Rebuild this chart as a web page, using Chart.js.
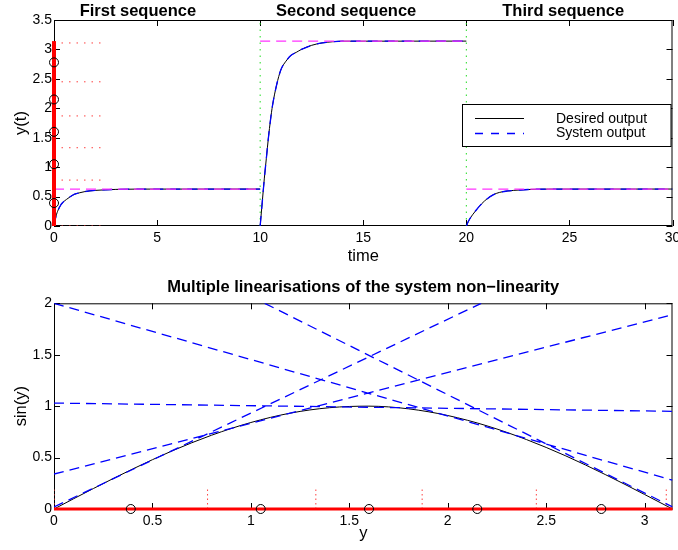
<!DOCTYPE html>
<html>
<head>
<meta charset="utf-8">
<script src="https://cdn.jsdelivr.net/npm/chart.js@4.4.1/dist/chart.umd.min.js"></script>
<style>
  body { margin: 0; background: #fff; }
  .wrap { position: absolute; left: 0; width: 678px; }
  #top { top: 0; height: 270px; }
  #bottom { top: 270px; height: 280px; }
</style>
</head>
<body>
<div class="wrap" id="top"><canvas id="response-chart"></canvas></div>
<div class="wrap" id="bottom"><canvas id="linear-chart"></canvas></div>
<script>
const FONT = '"Liberation Sans", Arial, sans-serif';

// top plot: three step sequences
const seqStart = [0, 10, 20];
const seqEnd = [10, 20, 30];
const seqTarget = [0.628, 3.1416, 0.628];
const seqTitles = ['First sequence', 'Second sequence', 'Third sequence'];
const seqTitleAt = [4.07, 14.17, 24.7];

// time since start of sequence, and output
const seq1T = [0, 0.1, 0.2, 0.3, 0.4, 0.6, 0.8, 1.0, 1.25, 1.5, 2.0, 2.5, 3.0, 4.0, 10];
const seq1Y = [0, 0.17, 0.27, 0.34, 0.39, 0.45, 0.5, 0.54, 0.565, 0.585, 0.605, 0.615, 0.622, 0.627, 0.628];
const seq2T = [0, 0.1, 0.2, 0.3, 0.4, 0.5, 0.6, 0.8, 1.0, 1.25, 1.5, 1.75, 2.0, 2.5, 3.0, 3.5, 4.0, 10];
const seq2Y = [0, 0.4, 0.8, 1.15, 1.5, 1.8, 2.05, 2.4, 2.65, 2.8, 2.9, 2.95, 3.0, 3.07, 3.11, 3.13, 3.14, 3.1416];
const seq3T = [0, 0.1, 0.2, 0.3, 0.5, 0.75, 1.0, 1.3, 1.6, 2.0, 2.6, 3.0, 4.0, 10];
const seq3Y = [0, 0.08, 0.14, 0.19, 0.28, 0.38, 0.46, 0.53, 0.57, 0.595, 0.612, 0.62, 0.627, 0.628];

// linearisation regions (shared by both plots)
const regionEdges = [0, 0.78, 1.33, 1.87, 2.45, 3.11];
const regionCentres = [0.39, 1.05, 1.6, 2.15, 2.78];
const edgeLineEnd = 2.45;     // time where the dotted level lines stop
const edgeMarkHeight = 0.2;   // height of dotted marks in the lower plot
const yMaxValue = 3.1416;

// bottom plot: sin(y) and tangent lines
const sinX = [0, 0.2, 0.4, 0.6, 0.8, 1.0, 1.2, 1.4, 1.6, 1.8, 2.0, 2.2, 2.4, 2.6, 2.8, 3.0, 3.1416];
const sinY = [0, 0.199, 0.389, 0.565, 0.717, 0.841, 0.932, 0.985, 1.0, 0.974, 0.909, 0.808, 0.675, 0.516, 0.335, 0.141, 0];
const tangentX = [[0, 2.17], [0, 3.1416], [0, 3.1416], [0, 3.1416], [1.07, 3.1416]];
const tangentY = [[0.02, 2.0], [0.34, 1.89], [1.03, 0.95], [2.0, 0.28], [2.0, 0.02]];

const topXTicks = [0, 5, 10, 15, 20, 25, 30];
const topYTicks = [0, 0.5, 1, 1.5, 2, 2.5, 3, 3.5];
const botXTicks = [0, 0.5, 1, 1.5, 2, 2.5, 3];
const botYTicks = [0, 0.5, 1, 1.5, 2];

const legendLabels = ['Desired output', 'System output'];

// join several polylines into one dataset, broken by null points
function joined(lines) {
  const pts = [];
  lines.forEach((line, i) => {
    if (i > 0) pts.push({ x: line[0].x, y: null });
    line.forEach(p => pts.push(p));
  });
  return pts;
}

const seqT = [seq1T, seq2T, seq3T];
const seqY = [seq1Y, seq2Y, seq3Y];
const responseData = joined(seqT.map((ts, i) => ts.map((t, j) => ({ x: seqStart[i] + t, y: seqY[i][j] }))));
const targetData = joined(seqStart.map((s, i) => [{ x: s, y: seqTarget[i] }, { x: seqEnd[i], y: seqTarget[i] }]));
const switchData = joined(seqStart.slice(1).map(s => [{ x: s, y: 0 }, { x: s, y: 3.5 }]));
const levelData = joined(regionEdges.map(v => [{ x: 0, y: v }, { x: edgeLineEnd, y: v }]));

function fixedScale(size, horizontal) {
  return function (scale) {
    if (horizontal) {
      scale.height = size;
      scale.paddingLeft = 0;
      scale.paddingRight = 0;
    } else {
      scale.width = size;
      scale.paddingTop = 0;
      scale.paddingBottom = 0;
    }
  };
}

function useTicks(values) {
  return function (scale) {
    scale.ticks = values.map(v => ({ value: v }));
  };
}

const frame = {
  id: 'frame',
  beforeDatasetsDraw(chart) {
    const { ctx, chartArea: a, scales: { x, y } } = chart;
    ctx.save();
    ctx.strokeStyle = '#000';
    ctx.lineWidth = 1;
    ctx.strokeRect(a.left + 0.5, a.top + 0.5, a.width - 1, a.height - 1);
    ctx.beginPath();
    x.ticks.forEach(t => {
      const px = Math.round(x.getPixelForValue(t.value)) + 0.5;
      ctx.moveTo(px, a.bottom); ctx.lineTo(px, a.bottom - 6);
      ctx.moveTo(px, a.top); ctx.lineTo(px, a.top + 6);
    });
    y.ticks.forEach(t => {
      const py = Math.round(y.getPixelForValue(t.value)) + 0.5;
      ctx.moveTo(a.left, py); ctx.lineTo(a.left + 6, py);
      ctx.moveTo(a.right, py); ctx.lineTo(a.right - 6, py);
    });
    ctx.stroke();
    ctx.restore();
  }
};

const seqLabels = {
  id: 'seqLabels',
  afterDraw(chart) {
    const { ctx, scales: { x } } = chart;
    ctx.save();
    ctx.font = 'bold 16.5px ' + FONT;
    ctx.fillStyle = '#000';
    ctx.textAlign = 'center';
    ctx.textBaseline = 'alphabetic';
    seqTitles.forEach((t, i) => ctx.fillText(t, x.getPixelForValue(seqTitleAt[i]), 15.5));
    ctx.restore();
  }
};

const outputLegend = {
  id: 'outputLegend',
  afterDatasetsDraw(chart) {
    const { ctx, chartArea: a } = chart;
    const left = 462.5, top = 104.5, right = a.right - 1.5, bottom = 146.5;
    ctx.save();
    ctx.fillStyle = '#fff';
    ctx.fillRect(left, top, right - left, bottom - top);
    ctx.strokeStyle = '#000';
    ctx.lineWidth = 1;
    ctx.strokeRect(left, top, right - left, bottom - top);
    ctx.beginPath();
    ctx.strokeStyle = '#000';
    ctx.moveTo(475, 118.5); ctx.lineTo(524, 118.5);
    ctx.stroke();
    ctx.beginPath();
    ctx.strokeStyle = '#0000ff';
    ctx.lineWidth = 1.3;
    ctx.setLineDash([8, 8]);
    ctx.moveTo(475, 133.5); ctx.lineTo(524, 133.5);
    ctx.stroke();
    ctx.setLineDash([]);
    ctx.font = '14px ' + FONT;
    ctx.fillStyle = '#000';
    ctx.textBaseline = 'middle';
    ctx.fillText(legendLabels[0], 556, 119);
    ctx.fillText(legendLabels[1], 556, 133);
    ctx.restore();
  }
};

const tickFont = { family: FONT, size: 14 };
const labelFont = { family: FONT, size: 16.5 };
const noGrid = { display: false, drawTicks: false };

new Chart(document.getElementById('response-chart'), {
  type: 'scatter',
  data: {
    datasets: [
      {
        label: 'regions',
        data: regionCentres.map(v => ({ x: 0, y: v })),
        showLine: false, pointRadius: 4.5, pointBorderWidth: 1,
        pointBorderColor: '#000', pointBackgroundColor: 'rgba(0,0,0,0)',
        clip: false, order: 1
      },
      {
        label: 'range',
        data: [{ x: 0, y: 0 }, { x: 0, y: yMaxValue }],
        showLine: true, borderColor: '#ff0000', borderWidth: 4,
        pointRadius: 0, clip: false, order: 2
      },
      {
        label: 'target',
        data: targetData,
        showLine: true, borderColor: '#ff33ff', borderWidth: 1.2, borderDash: [10, 6],
        pointRadius: 0, spanGaps: false, order: 3
      },
      {
        label: 'System output',
        data: responseData,
        showLine: true, borderColor: '#0000ff', borderWidth: 1.3, borderDash: [10, 7],
        pointRadius: 0, spanGaps: false, cubicInterpolationMode: 'monotone', order: 4
      },
      {
        label: 'Desired output',
        data: responseData,
        showLine: true, borderColor: '#000', borderWidth: 1,
        pointRadius: 0, spanGaps: false, cubicInterpolationMode: 'monotone', order: 5
      },
      {
        label: 'levels',
        data: levelData,
        showLine: true, borderColor: '#ff4040', borderWidth: 1, borderDash: [1.5, 6],
        pointRadius: 0, spanGaps: false, order: 6
      },
      {
        label: 'switch',
        data: switchData,
        showLine: true, borderColor: '#22dd22', borderWidth: 1, borderDash: [1.5, 5],
        pointRadius: 0, spanGaps: false, order: 7
      }
    ]
  },
  options: {
    responsive: true,
    maintainAspectRatio: false,
    animation: false,
    layout: { padding: { top: 20, right: 3, left: 0, bottom: 0 } },
    plugins: { legend: { display: false }, tooltip: { enabled: false } },
    scales: {
      x: {
        type: 'linear', min: 0, max: 30,
        afterBuildTicks: useTicks(topXTicks),
        afterFit: fixedScale(44, true),
        grid: noGrid,
        border: { display: false },
        ticks: { font: tickFont, color: '#000', padding: 4, maxRotation: 0, autoSkip: false, callback: v => String(v) },
        title: { display: true, text: 'time', font: labelFont, color: '#000', padding: { top: 0, bottom: 4 } }
      },
      y: {
        type: 'linear', min: 0, max: 3.5,
        afterBuildTicks: useTicks(topYTicks),
        afterFit: fixedScale(54, false),
        grid: noGrid,
        border: { display: false },
        ticks: { font: tickFont, color: '#000', padding: 2, autoSkip: false, callback: v => String(v) },
        title: { display: true, text: 'y(t)', font: labelFont, color: '#000', padding: { top: 11.6, bottom: 0 } }
      }
    }
  },
  plugins: [frame, seqLabels, outputLegend]
});

const tangentData = joined(tangentX.map((xs, i) => xs.map((x, j) => ({ x: x, y: tangentY[i][j] }))));
const markData = joined(regionEdges.map(v => [{ x: v, y: 0 }, { x: v, y: edgeMarkHeight }]));

new Chart(document.getElementById('linear-chart'), {
  type: 'scatter',
  data: {
    datasets: [
      {
        label: 'regions',
        data: regionCentres.map(v => ({ x: v, y: 0 })),
        showLine: false, pointRadius: 4.5, pointBorderWidth: 1,
        pointBorderColor: '#000', pointBackgroundColor: 'rgba(0,0,0,0)',
        clip: false, order: 1
      },
      {
        label: 'range',
        data: [{ x: 0, y: 0 }, { x: yMaxValue, y: 0 }],
        showLine: true, borderColor: '#ff0000', borderWidth: 3,
        pointRadius: 0, clip: false, order: 2
      },
      {
        label: 'linearisations',
        data: tangentData,
        showLine: true, borderColor: '#0000ff', borderWidth: 1.3, borderDash: [10, 6],
        pointRadius: 0, spanGaps: false, order: 3
      },
      {
        label: 'sin(y)',
        data: sinX.map((x, i) => ({ x: x, y: sinY[i] })),
        showLine: true, borderColor: '#000', borderWidth: 1,
        pointRadius: 0, cubicInterpolationMode: 'monotone', order: 4
      },
      {
        label: 'edges',
        data: markData,
        showLine: true, borderColor: '#ff4040', borderWidth: 1, borderDash: [1.5, 3],
        pointRadius: 0, spanGaps: false, order: 5
      }
    ]
  },
  options: {
    responsive: true,
    maintainAspectRatio: false,
    animation: false,
    layout: { padding: { top: 0, right: 3, left: 0, bottom: 0 } },
    plugins: {
      legend: { display: false },
      tooltip: { enabled: false },
      title: {
        display: true, fullSize: false,
        text: 'Multiple linearisations of the system non\u2212linearity',
        font: { family: FONT, size: 16.5, weight: 'bold' }, color: '#000',
        padding: { top: 7.6, bottom: 5.9 }
      }
    },
    scales: {
      x: {
        type: 'linear', min: 0, max: yMaxValue,
        afterBuildTicks: useTicks(botXTicks),
        afterFit: fixedScale(41, true),
        grid: noGrid,
        border: { display: false },
        ticks: { font: tickFont, color: '#000', padding: 4, maxRotation: 0, autoSkip: false, callback: v => String(v) },
        title: { display: true, text: 'y', font: labelFont, color: '#000', padding: { top: 0, bottom: 6.5 } }
      },
      y: {
        type: 'linear', min: 0, max: 2,
        afterBuildTicks: useTicks(botYTicks),
        afterFit: fixedScale(54, false),
        grid: noGrid,
        border: { display: false },
        ticks: { font: tickFont, color: '#000', padding: 2, autoSkip: false, callback: v => String(v) },
        title: { display: true, text: 'sin(y)', font: labelFont, color: '#000', padding: { top: 11.6, bottom: 0 } }
      }
    }
  },
  plugins: [frame]
});
</script>
</body>
</html>
